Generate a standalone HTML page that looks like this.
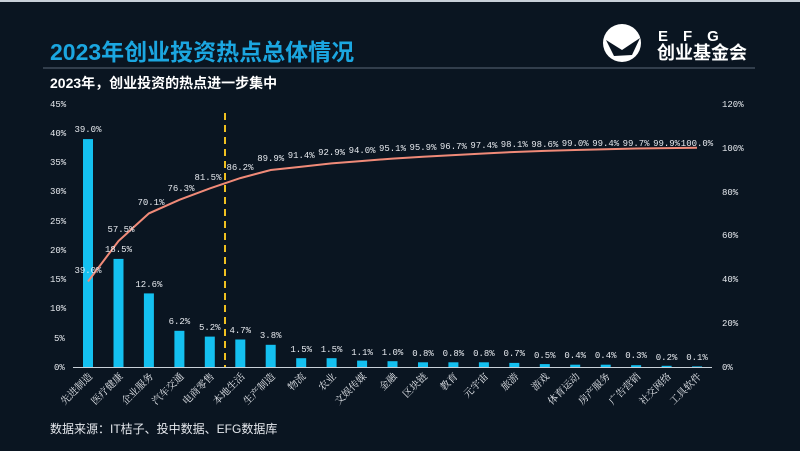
<!DOCTYPE html>
<html><head><meta charset="utf-8"><style>
body{margin:0;background:#0a1521;}
svg{display:block;font-family:"Liberation Sans","Noto Sans CJK SC",sans-serif;}
.m{font-family:"Liberation Mono","Noto Sans CJK SC",monospace;font-size:9px;fill:#e6e9ee;}
.ax{font-family:"Liberation Mono",monospace;font-size:9px;fill:#e6e9ee;}
.xl{font-family:"Noto Serif CJK SC","Noto Sans CJK SC",serif;font-size:10px;fill:#e6e9ee;}
</style></head><body>
<svg width="800" height="451" viewBox="0 0 800 451">
<rect width="800" height="451" fill="#0a1521"/>
<rect width="800" height="2" fill="#c8d0d8"/>
<text x="50" y="60" font-size="23" font-weight="bold" fill="#1ba6e0" font-family="Liberation Sans,Noto Sans CJK SC,sans-serif">2023年创业投资热点总体情况</text>
<line x1="43" y1="68" x2="755" y2="68" stroke="#5a6878" stroke-width="1"/>
<text x="50" y="88" font-size="14" font-weight="bold" fill="#ffffff">2023年，创业投资的热点进一步集中</text>
<!-- logo -->
<circle cx="622" cy="43" r="19" fill="#ffffff"/>
<path d="M606 40 L622 50 L640 38 L632 55 L614 56 Z" fill="#0a1521"/>
<text x="658" y="41" font-size="15" font-weight="bold" fill="#fff" letter-spacing="15">EFG</text>
<text x="657" y="59" font-size="18" font-weight="bold" fill="#fff">创业基金会</text>
<!-- left axis -->
<g class="ax" text-anchor="start">
<text x="50" y="107">45%</text><text x="50" y="136">40%</text><text x="50" y="165">35%</text><text x="50" y="194">30%</text><text x="50" y="224">25%</text><text x="50" y="253">20%</text><text x="50" y="282">15%</text><text x="50" y="311">10%</text><text x="54" y="341">5%</text><text x="54" y="370">0%</text>
</g>
<g class="ax">
<text x="722" y="107">120%</text><text x="722" y="151">100%</text><text x="722" y="195">80%</text><text x="722" y="238">60%</text><text x="722" y="282">40%</text><text x="722" y="326">20%</text><text x="722" y="370">0%</text>
</g>
<line x1="73" y1="367.5" x2="712" y2="367.5" stroke="#c8d0d8" stroke-width="1"/>
<g fill="#14c0f0">
<rect x="83" y="139.1" width="10" height="227.9"/>
<rect x="113.5" y="258.9" width="10" height="108.1"/>
<rect x="143.9" y="293.4" width="10" height="73.6"/>
<rect x="174.4" y="330.8" width="10" height="36.2"/>
<rect x="204.8" y="336.6" width="10" height="30.4"/>
<rect x="235.3" y="339.5" width="10" height="27.5"/>
<rect x="265.7" y="344.8" width="10" height="22.2"/>
<rect x="296.2" y="358.2" width="10" height="8.8"/>
<rect x="326.6" y="358.2" width="10" height="8.8"/>
<rect x="357.1" y="360.6" width="10" height="6.4"/>
<rect x="387.5" y="361.2" width="10" height="5.8"/>
<rect x="418" y="362.3" width="10" height="4.7"/>
<rect x="448.4" y="362.3" width="10" height="4.7"/>
<rect x="478.9" y="362.3" width="10" height="4.7"/>
<rect x="509.3" y="362.9" width="10" height="4.1"/>
<rect x="539.8" y="364.1" width="10" height="2.9"/>
<rect x="570.2" y="364.7" width="10" height="2.3"/>
<rect x="600.7" y="364.7" width="10" height="2.3"/>
<rect x="631.1" y="365.2" width="10" height="1.8"/>
<rect x="661.6" y="365.8" width="10" height="1.2"/>
<rect x="692" y="366.4" width="10" height="0.6"/>
</g>
<line x1="225" y1="113" x2="225" y2="367" stroke="#f0c020" stroke-width="2" stroke-dasharray="7,5"/>
<polyline fill="none" stroke="#f08a78" stroke-width="2" points="88,281.5 118.5,241 148.9,213.4 179.4,199.8 209.8,188.4 240.3,178.1 270.7,170 301.2,166.7 331.6,163.4 362.1,161 392.5,158.6 423,156.8 453.4,155.1 483.9,153.5 514.3,152 544.8,150.9 575.2,150 605.7,149.2 636.1,148.5 666.6,148.1 697,147.8"/>
<g class="m" text-anchor="middle">
<text x="88" y="132">39.0%</text><text x="118.5" y="252">18.5%</text><text x="148.9" y="287">12.6%</text><text x="179.4" y="324">6.2%</text><text x="209.8" y="330">5.2%</text><text x="240.3" y="333">4.7%</text><text x="270.7" y="338">3.8%</text><text x="301.2" y="352">1.5%</text><text x="331.6" y="352">1.5%</text><text x="362.1" y="355">1.1%</text><text x="392.5" y="355">1.0%</text><text x="423" y="356">0.8%</text><text x="453.4" y="356">0.8%</text><text x="483.9" y="356">0.8%</text><text x="514.3" y="356">0.7%</text><text x="544.8" y="358">0.5%</text><text x="575.2" y="358">0.4%</text><text x="605.7" y="358">0.4%</text><text x="636.1" y="358">0.3%</text><text x="666.6" y="360">0.2%</text><text x="697" y="360">0.1%</text>
</g>
<g class="m" text-anchor="middle">
<text x="88" y="273">39.0%</text><text x="121" y="232">57.5%</text><text x="151" y="205">70.1%</text><text x="181" y="191">76.3%</text><text x="208" y="180">81.5%</text><text x="240" y="170">86.2%</text><text x="270.7" y="161">89.9%</text><text x="301.2" y="158">91.4%</text><text x="331.6" y="155">92.9%</text><text x="362.1" y="153">94.0%</text><text x="392.5" y="151">95.1%</text><text x="423" y="150">95.9%</text><text x="453.4" y="149">96.7%</text><text x="483.9" y="148">97.4%</text><text x="514.3" y="147">98.1%</text><text x="544.8" y="147">98.6%</text><text x="575.2" y="146">99.0%</text><text x="605.7" y="146">99.4%</text><text x="636.1" y="146">99.7%</text><text x="666.6" y="146">99.9%</text><text x="697" y="146">100.0%</text>
</g>
<g class="xl" text-anchor="end">
<text transform="translate(93,377) rotate(-45)">先进制造</text>
<text transform="translate(123.5,377) rotate(-45)">医疗健康</text>
<text transform="translate(153.9,377) rotate(-45)">企业服务</text>
<text transform="translate(184.4,377) rotate(-45)">汽车交通</text>
<text transform="translate(214.8,377) rotate(-45)">电商零售</text>
<text transform="translate(245.3,377) rotate(-45)">本地生活</text>
<text transform="translate(275.7,377) rotate(-45)">生产制造</text>
<text transform="translate(306.2,377) rotate(-45)">物流</text>
<text transform="translate(336.6,377) rotate(-45)">农业</text>
<text transform="translate(367.1,377) rotate(-45)">文娱传媒</text>
<text transform="translate(397.5,377) rotate(-45)">金融</text>
<text transform="translate(428,377) rotate(-45)">区块链</text>
<text transform="translate(458.4,377) rotate(-45)">教育</text>
<text transform="translate(488.9,377) rotate(-45)">元宇宙</text>
<text transform="translate(519.3,377) rotate(-45)">旅游</text>
<text transform="translate(549.8,377) rotate(-45)">游戏</text>
<text transform="translate(580.2,377) rotate(-45)">体育运动</text>
<text transform="translate(610.7,377) rotate(-45)">房产服务</text>
<text transform="translate(641.1,377) rotate(-45)">广告营销</text>
<text transform="translate(671.6,377) rotate(-45)">社交网络</text>
<text transform="translate(702,377) rotate(-45)">工具软件</text>
</g>
<text x="50" y="433" font-size="12" fill="#e6e9ee">数据来源：IT桔子、投中数据、EFG数据库</text>
</svg>
</body></html>
